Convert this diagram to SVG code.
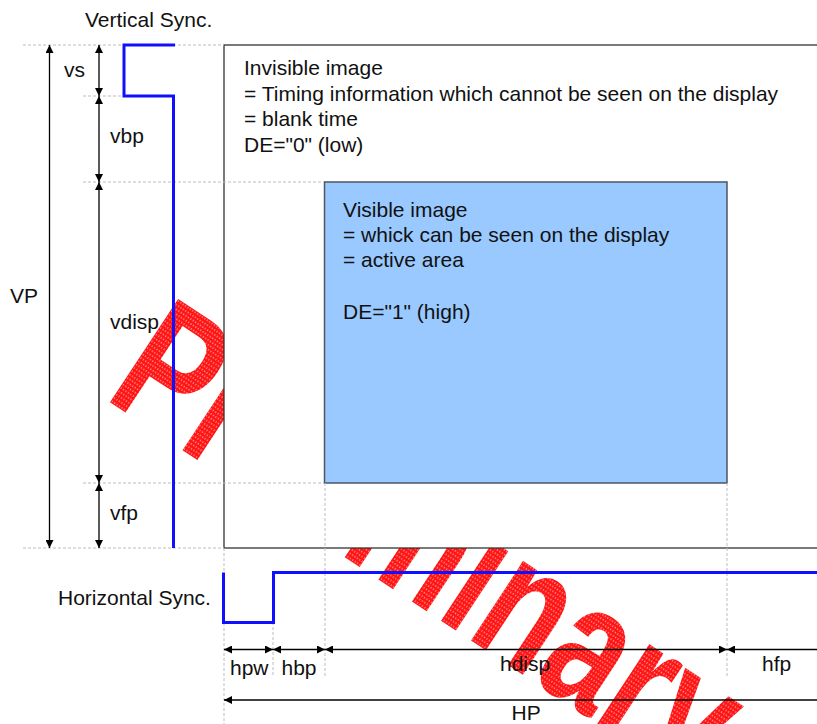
<svg xmlns="http://www.w3.org/2000/svg" width="817" height="724" viewBox="0 0 817 724">
<defs>
<marker id="ah" viewBox="0 0 10 10" refX="10" refY="5" markerWidth="8" markerHeight="8" markerUnits="userSpaceOnUse" orient="auto-start-reverse"><path d="M0,0 L10,5 L0,10 z" fill="#000"/></marker>
<pattern id="dots" width="4" height="4" patternUnits="userSpaceOnUse"><rect width="4" height="4" fill="#ff1414"/><circle cx="2" cy="2" r="0.9" fill="#fff" opacity="0.55"/></pattern>
<style>
.t{font-family:"Liberation Sans",Arial,sans-serif;font-size:21px;fill:#111}
.dot{stroke:#bdbdbd;stroke-width:1;stroke-dasharray:3 2;fill:none}
.ar{stroke:#000;stroke-width:1.3;fill:none;marker-start:url(#ah);marker-end:url(#ah)}
.ar1{stroke:#000;stroke-width:1.3;fill:none;marker-start:url(#ah)}
.sig{stroke:#1010ff;stroke-width:3;fill:none}
</style>
</defs>
<rect width="817" height="724" fill="#fff"/>
<g id="watermark"><text transform="translate(102.8 397.6) rotate(33.4) scale(0.72 1)" font-family="'Liberation Sans',Arial,sans-serif" font-weight="bold" font-size="180" fill="url(#dots)">Preliminary</text></g>
<g id="invisible-image">
<rect x="224" y="45" width="620" height="503" fill="#fff" stroke="#333" stroke-width="1.3"/>
<text class="t" x="244" y="75">Invisible image</text>
<text class="t" x="244" y="100.5">= Timing information which cannot be seen on the display</text>
<text class="t" x="244" y="126">= blank time</text>
<text class="t" x="244" y="151.5">DE="0" (low)</text>
</g>
<g id="visible-image">
<rect x="324.5" y="182" width="402.5" height="301" fill="#99c9ff" stroke="#4d5563" stroke-width="1.5"/>
<text class="t" x="343" y="216.7">Visible image</text>
<text class="t" x="343" y="242">= whick can be seen on the display</text>
<text class="t" x="343" y="267.3">= active area</text>
<text class="t" x="343" y="319.3">DE="1" (high)</text>
</g>
<g id="connectors">
<path class="dot" d="M23,45 H224 M83,96 H124 M83,182 H324 M83,483 H324 M23,548 H224 M224,548 V724 M273,622 V676 M325,483 V676 M727,483 V676"/>
<path class="ar" d="M49.5,45 V548"/>
<path class="ar" d="M99,45 V96"/>
<path class="ar" d="M99,96 V182"/>
<path class="ar" d="M99,182 V483"/>
<path class="ar" d="M99,483 V548"/>
<path class="ar" d="M224,649.5 H273"/>
<path class="ar" d="M273,649.5 H325"/>
<path class="ar" d="M325,649.5 H727"/>
<path class="ar1" d="M727,649.5 H817"/>
<path class="ar1" d="M224,700 H817"/>
</g>
<g id="vsync"><path class="sig" d="M175,45 H124 V96 H173.5 V548"/><text class="t" x="85" y="27">Vertical Sync.</text></g>
<g id="hsync"><path class="sig" d="M223.5,572.5 V622.5 H273.5 V572.5 H817"/><text class="t" x="58" y="605">Horizontal Sync.</text></g>
<g id="labels">
<text class="t" x="64" y="77">vs</text>
<text class="t" x="110" y="143">vbp</text>
<text class="t" x="10" y="303">VP</text>
<text class="t" x="110" y="329">vdisp</text>
<text class="t" x="110" y="520">vfp</text>
<text class="t" x="230" y="675">hpw</text>
<text class="t" x="281.5" y="675">hbp</text>
<text class="t" x="500" y="671">hdisp</text>
<text class="t" x="762" y="671">hfp</text>
<text class="t" x="511.5" y="720">HP</text>
</g>
</svg>
